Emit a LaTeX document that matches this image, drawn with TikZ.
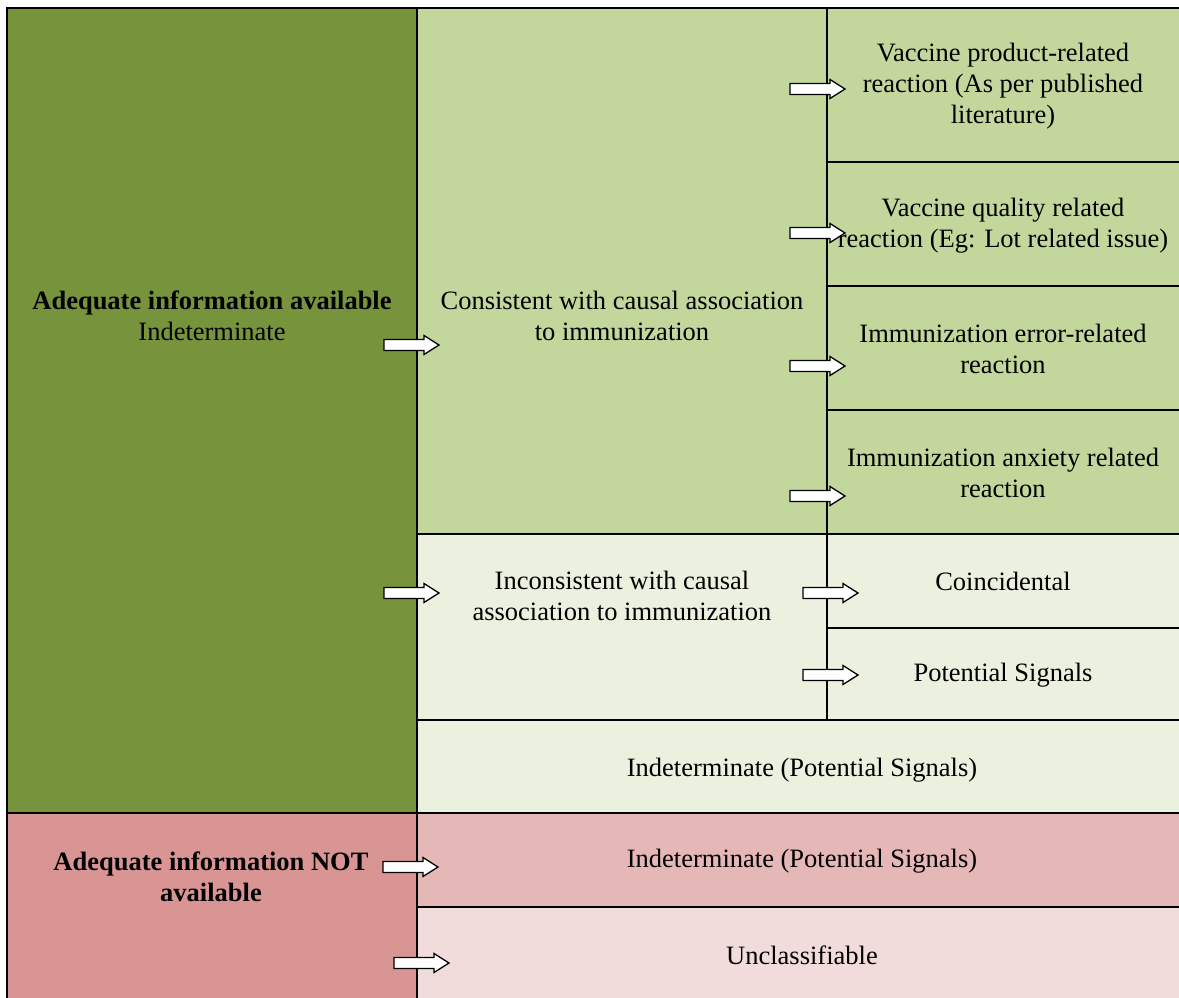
\documentclass[tikz,border=0pt]{standalone}
\usepackage{fontspec}
\setmainfont{Liberation Serif}
\newfontfamily\tnr{Liberation Serif}
\definecolor{dkgreen}{HTML}{77933C}
\definecolor{ltgreen}{HTML}{C3D69B}
\definecolor{pagreen}{HTML}{EBF1DE}
\definecolor{dkred}{HTML}{D99594}
\definecolor{ltred}{HTML}{E5B8B7}
\definecolor{pared}{HTML}{F2DCDB}
\newcommand{\blkarrow}[2]{%
  \draw[line width=1.3pt,fill=white,line join=miter] (#1,#2-5.5) -- ++(40,0) -- ++(0,-4) -- ++(15,9.5) -- ++(-15,9.5) -- ++(0,-4) -- ++(-40,0) -- cycle;}
\tikzset{txt/.style={align=center,font=\tnr\fontsize{26.5}{31}\selectfont,inner sep=0pt},
  grid/.style={line width=2pt}}
\begin{document}
\begin{tikzpicture}[x=1pt,y=-1pt]
\useasboundingbox (0,0) rectangle (1179,998);
% fills
\fill[dkgreen] (7,8) rectangle (417,813);
\fill[dkred] (7,813) rectangle (417,998);
\fill[ltgreen] (417,8) rectangle (1179,534);
\fill[pagreen] (417,534) rectangle (1179,813);
\fill[ltred] (417,813) rectangle (1179,907);
\fill[pared] (417,907) rectangle (1179,998);
% grid lines
\draw[grid] (7,998) -- (7,8) -- (1179,8);
\draw[grid] (417,8) -- (417,998);
\draw[grid] (827,8) -- (827,720);
\draw[grid] (7,813) -- (1179,813);
\draw[grid] (417,534) -- (1179,534);
\draw[grid] (417,720) -- (1179,720);
\draw[grid] (417,907) -- (1179,907);
\draw[grid] (827,162) -- (1179,162);
\draw[grid] (827,286) -- (1179,286);
\draw[grid] (827,410) -- (1179,410);
\draw[grid] (827,628) -- (1179,628);
% texts
\node[txt] (adq) at (212,316) {\textbf{Adequate information available}\\Indeterminate};
\node[txt] (nadq) at (211,877) {\textbf{Adequate information NOT}\\\textbf{available}};
\node[txt] (cons) at (622,316) {Consistent with causal association\\to immunization};
\node[txt] (incons) at (622,596) {Inconsistent with causal\\association to immunization};
\node[txt] (ind1) at (802,770) {Indeterminate (Potential Signals)};
\node[txt] (ind2) at (802,861) {Indeterminate (Potential Signals)};
\node[txt] (uncl) at (802,955) {Unclassifiable};
\node[txt] (prod) at (1003,86) {Vaccine product-related\\reaction (As per published\\literature)};
\node[txt] (qual) at (1003,226) {Vaccine quality related\\reaction (Eg: Lot related issue)};
\node[txt] (err) at (1003,349) {Immunization error-related\\reaction};
\node[txt] (anx) at (1003,473) {Immunization anxiety related\\reaction};
\node[txt] (coin) at (1003,581) {Coincidental};
\node[txt] (pot) at (1003,675) {Potential Signals};
% arrows
\blkarrow{384}{345}
\blkarrow{384}{593}
\blkarrow{383}{867}
\blkarrow{394}{963}
\blkarrow{790}{89}
\blkarrow{790}{233}
\blkarrow{790}{366}
\blkarrow{790}{496}
\blkarrow{803}{593}
\blkarrow{803}{675}
\end{tikzpicture}
\end{document}
